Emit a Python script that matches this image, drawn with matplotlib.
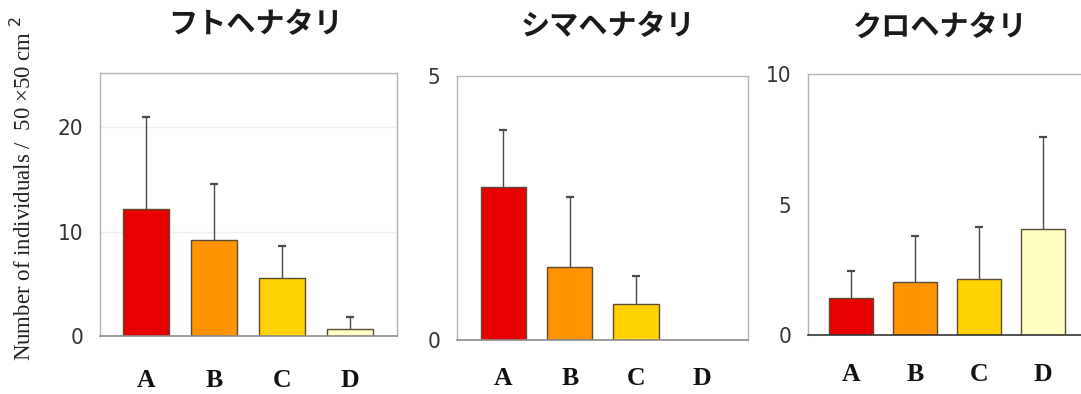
import matplotlib
matplotlib.use("Agg")
import matplotlib.pyplot as plt
import numpy as np

# Mean number of individuals per 50x50 cm quadrat at sites A-D, with SD
sites = ["A", "B", "C", "D"]
futo_mean = [12.2, 9.2, 5.6, 0.65]
futo_sd = [8.8, 5.4, 3.0, 1.2]
shima_mean = [2.89, 1.39, 0.68, 0.0]
shima_sd = [1.09, 1.32, 0.53, 0.0]
kuro_mean = [1.41, 2.04, 2.13, 4.05]
kuro_sd = [1.04, 1.75, 1.99, 3.55]

titles = ["フトヘナタリ", "シマヘナタリ", "クロヘナタリ"]
yticks_list = [[0, 10, 20], [0, 5], [0, 5, 10]]
ylims = [(0, 25.2), (0, 5.0), (0, 10.0)]

colors = ["#e60000", "#ff9400", "#ffd200", "#ffffc4"]

W, H = 1081, 394
fig = plt.figure(figsize=(W / 100, H / 100), dpi=100)

def fx(px):
    return px / W

def fy(py):
    return 1 - py / H

# axes boxes in pixel coordinates: left, top, right, bottom
boxes = [(100, 73, 397, 336), (457, 76, 748, 340), (808, 74, 1086, 335)]
xlims = [(-0.68, 3.69), (-0.70, 3.69), (-0.67, 3.67)]
title_x = [256, 608, 940]
title_y = [24, 26, 27]
xlabel_pad = [23.5, 19.5, 20.5]
bottom_spine = ["#8c8c8c", "#8c8c8c", "#333333"]

data = [(futo_mean, futo_sd), (shima_mean, shima_sd), (kuro_mean, kuro_sd)]
x = np.arange(len(sites))

for i, ((mean, sd), (l, t, r, b)) in enumerate(zip(data, boxes)):
    mean = np.asarray(mean)
    sd = np.asarray(sd)
    ax = fig.add_axes([fx(l), fy(b), fx(r) - fx(l), fy(t) - fy(b)])
    ax.set_xlim(*xlims[i])
    ax.set_ylim(*ylims[i])
    if i == 0:
        for g in (10, 20):
            ax.axhline(g, color="#efefef", lw=1.0, zorder=0)
    ax.bar(x, mean, width=0.68, color=colors, edgecolor="#5b4b35",
           linewidth=1.0, zorder=2)
    # upper error whisker with a small cap on top only
    mask = sd > 0
    ax.vlines(x[mask], mean[mask], mean[mask] + sd[mask],
              color="#4a4a4a", lw=1.0, zorder=3)
    ax.plot(x[mask], mean[mask] + sd[mask], ls="none", marker="_",
            ms=6, mew=1.6, color="#4a4a4a", zorder=3)
    for side in ("top", "right", "left"):
        ax.spines[side].set_color("#b4b4b4")
        ax.spines[side].set_linewidth(1.0)
    ax.spines["bottom"].set_color(bottom_spine[i])
    ax.spines["bottom"].set_linewidth(1.2)
    ax.set_yticks(yticks_list[i])
    ax.set_yticklabels([str(v) for v in yticks_list[i]],
                       family="DejaVu Sans", fontstretch="condensed",
                       fontsize=16, color="#333333")
    ax.tick_params(axis="y", length=0, pad=12)
    ax.set_xticks(x)
    ax.set_xticklabels(sites, family="Liberation Serif", fontweight="bold",
                       fontsize=18.5, color="#111111")
    ax.tick_params(axis="x", length=0, pad=xlabel_pad[i])
    fig.text(fx(title_x[i]), fy(title_y[i]), titles[i],
             family=["Noto Sans CJK JP", "DejaVu Sans"], fontweight="bold",
             fontsize=21, ha="center", va="center", color="#1a1a1a")

fig.text(fx(23), fy(188), "Number of individuals /  50 ×50 cm $^{2}$",
         rotation=90, ha="center", va="center", family="Liberation Serif",
         fontsize=16.5, color="#222222")

fig.savefig("out.png", dpi=100)
